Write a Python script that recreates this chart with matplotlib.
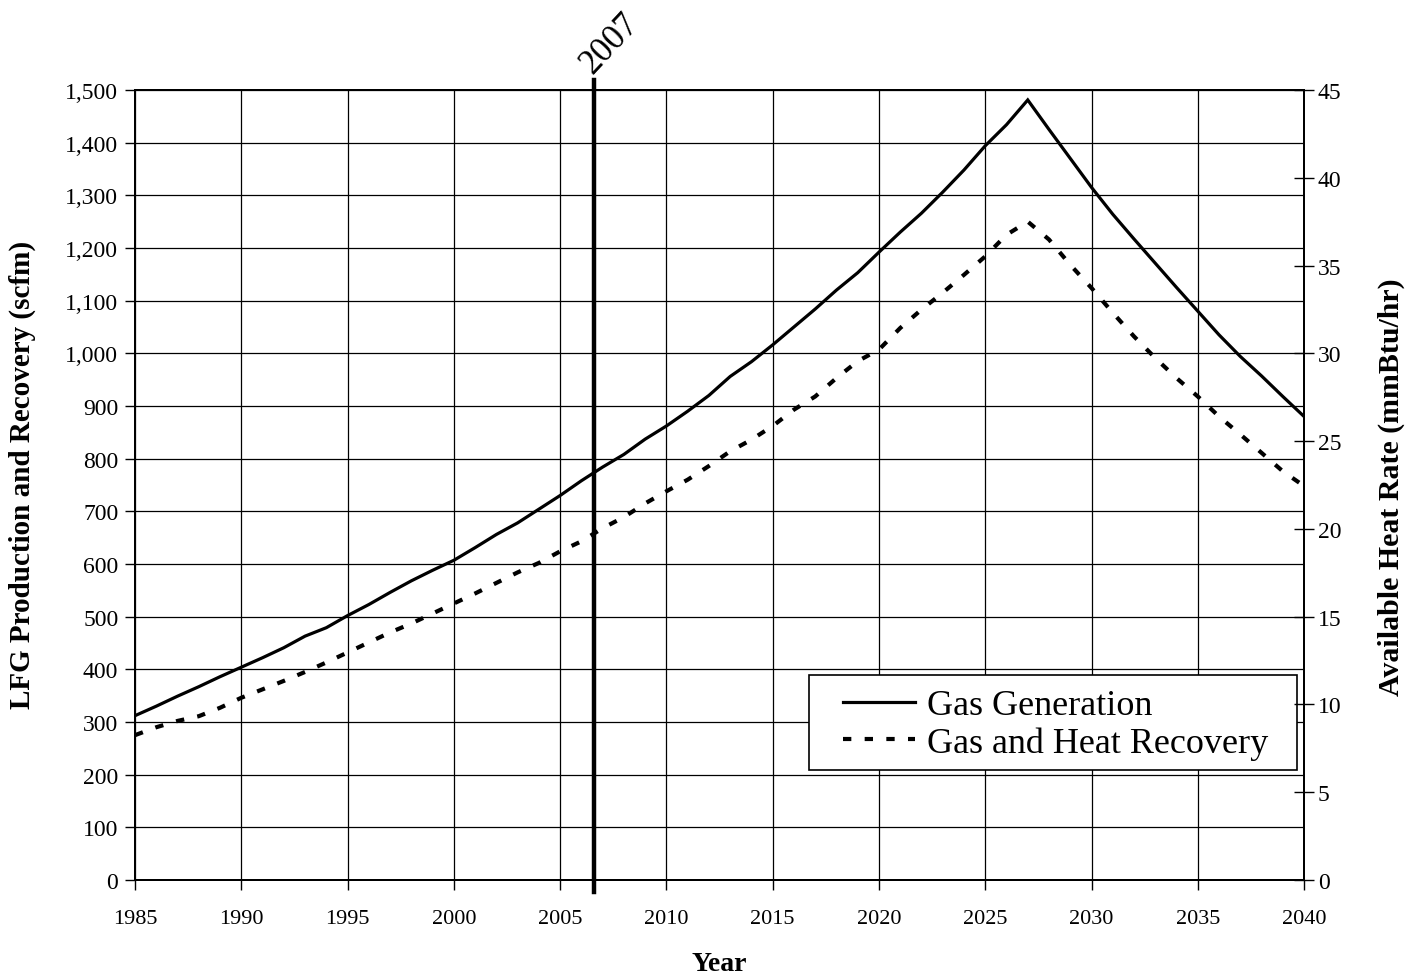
import matplotlib
matplotlib.use('Agg')
import matplotlib.pyplot as plt
from matplotlib.patches import Rectangle
import numpy as np

plt.rcParams['font.family'] = ['Liberation Serif', 'DejaVu Serif']

years = list(range(1985, 2041))

gas_generation = [
    312, 330, 349, 367, 386, 404, 422, 441, 463, 479,
    502, 523, 546, 568, 588, 607, 631, 656, 678, 704,
    730, 758, 784, 808, 837, 862, 890, 920, 956, 984,
    1016, 1050, 1084, 1120, 1153, 1192, 1230, 1266, 1306, 1348,
    1394, 1434, 1481, 1425, 1370, 1315, 1264, 1217, 1171, 1125,
    1080, 1035, 994, 957, 918, 880,
]

gas_recovery = [
    275, 290, 302, 311, 327, 346, 362, 378, 395, 413,
    432, 451, 470, 487, 506, 525, 544, 564, 584, 602,
    624, 643, 668, 689, 715, 738, 760, 786, 814, 836,
    862, 893, 918, 953, 985, 1007, 1048, 1083, 1115, 1149,
    1184, 1225, 1250, 1216, 1168, 1124, 1077, 1032, 991, 953,
    918, 880, 846, 811, 776, 748,
]

marker_year = 2006.6
marker_label = '2007'

fig = plt.figure(figsize=(14.17, 9.78), dpi=100)
ax = fig.add_axes([0.0953, 0.0992, 0.8250, 0.8078])

ax.plot(years, gas_generation, color='black', lw=2.3, label='Gas Generation',
        solid_joinstyle='miter')
ax.plot(years, gas_recovery, color='black', lw=3.0, dashes=(2.0, 3.2),
        label='Gas and Heat Recovery')

ax.set_xlim(1985, 2040)
ax.set_ylim(0, 1500)
ax.set_xticks(range(1985, 2041, 5))
ax.set_yticks(range(0, 1501, 100))
ax.yaxis.set_major_formatter(matplotlib.ticker.FuncFormatter(lambda v, p: f'{int(v):,}'))
ax.grid(True, color='black', lw=0.9)
ax.set_axisbelow(True)
for s in ax.spines.values():
    s.set_linewidth(1.4)
ax.tick_params(axis='y', labelsize=17, direction='out', length=7, width=1.0, pad=5)
ax.tick_params(axis='x', labelsize=16, direction='out', length=7, width=1.0, pad=14)

ax.set_xlabel('Year', fontsize=20, fontweight='bold')
ax.xaxis.set_label_coords(0.5, -0.0895)
ax.set_ylabel('LFG Production and Recovery (scfm)', fontsize=21, fontweight='bold')
ax.yaxis.set_label_coords(-0.0847, 0.514)

ax2 = ax.twinx()
ax2.set_ylim(0, 45)
ax2.set_yticks(range(0, 46, 5))
ax2.tick_params(axis='y', labelsize=17, direction='inout', length=14, width=1.0, pad=3)
ax2.set_ylabel('Available Heat Rate (mmBtu/hr)', fontsize=21.5, fontweight='bold')
ax2.yaxis.set_label_coords(1.0633, 0.499)
for s in ax2.spines.values():
    s.set_linewidth(1.4)

ax.axvline(marker_year, ymin=-0.015, ymax=1.0126, color='black', lw=3.2, clip_on=False, zorder=5)
ax.text(marker_year + 0.2, 1520, marker_label, rotation=47, fontsize=25,
        ha='left', va='bottom', rotation_mode='anchor')

# legend box drawn separately so the padding can differ per side
box = Rectangle((0.5766, 0.139), 0.4174, 0.1202, transform=ax.transAxes,
                facecolor='white', edgecolor='black', lw=1.2, zorder=6)
ax.add_patch(box)
leg = ax.legend(loc='center left', bbox_to_anchor=(0.6056, 0.197), fontsize=26,
                frameon=False, handlelength=2.0, handletextpad=0.33, borderpad=0,
                labelspacing=0.1, borderaxespad=0)
leg.set_zorder(7)

fig.savefig('out.png', dpi=100)
